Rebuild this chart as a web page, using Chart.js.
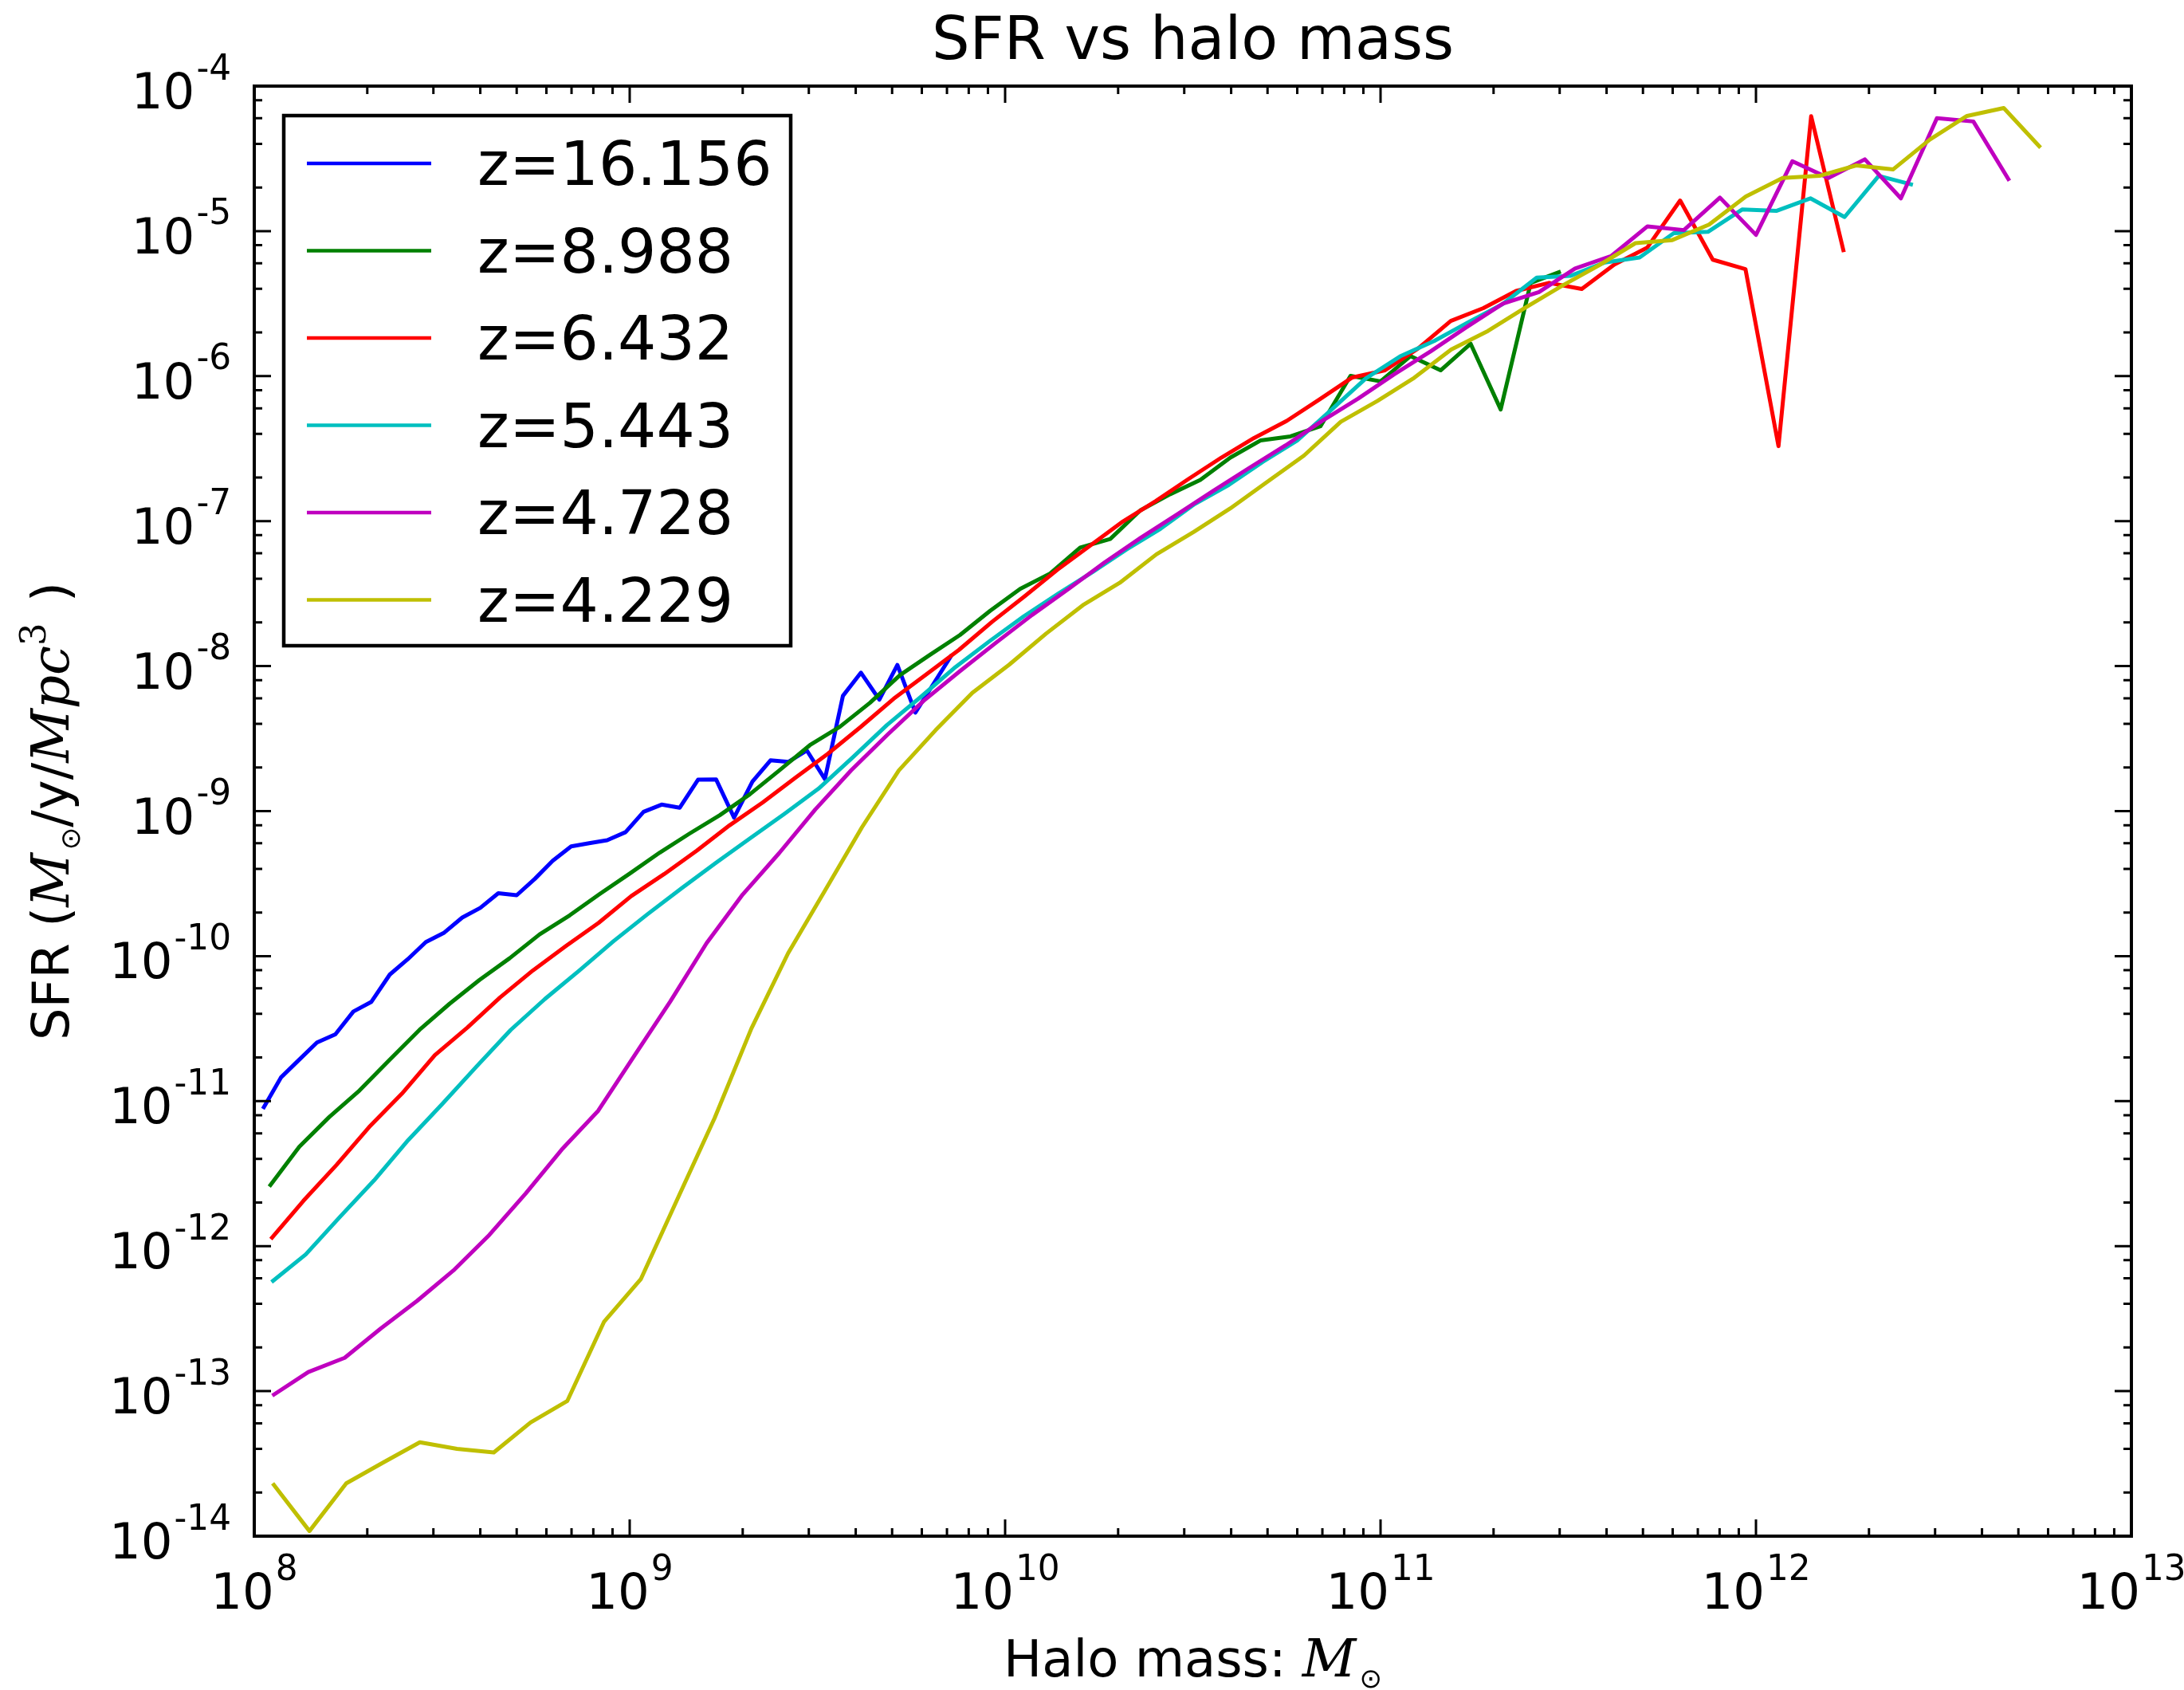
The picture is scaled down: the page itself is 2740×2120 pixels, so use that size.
<!DOCTYPE html>
<html>
<head>
<meta charset="utf-8">
<script src="https://cdn.jsdelivr.net/npm/chart.js@4/dist/chart.umd.min.js"></script>
<style>
html,body{margin:0;padding:0;background:#ffffff;}
canvas{display:block;}
</style>
</head>
<body>
<canvas id="c" width="2740" height="2120" style="width:2740px;height:2120px"></canvas>
<script>
// ---------------- data (log10 values) ----------------
const seriesLabels = ['z=16.156', 'z=8.988', 'z=6.432', 'z=5.443', 'z=4.728', 'z=4.229'];
const seriesColors = ['#0000ff', '#008000', '#ff0000', '#00bfbf', '#bf00bf', '#bfbf00'];

// log10(halo mass / Msun), bin centres
const massLog_z16 = [8.023,8.071,8.119,8.167,8.216,8.264,8.312,8.361,8.409,8.457,8.506,8.554,8.602,8.650,8.699,8.747,8.795,8.844,8.892,8.940,8.989,9.037,9.085,9.133,9.182,9.230,9.278,9.327,9.375,9.423,9.472,9.520,9.568,9.616,9.665,9.713,9.761,9.810,9.858];
const sfrLog_z16 = [-11.053,-10.837,-10.716,-10.596,-10.539,-10.382,-10.315,-10.127,-10.021,-9.903,-9.838,-9.734,-9.667,-9.566,-9.580,-9.468,-9.342,-9.243,-9.221,-9.201,-9.145,-9.005,-8.955,-8.977,-8.783,-8.781,-9.045,-8.796,-8.650,-8.660,-8.582,-8.779,-8.205,-8.045,-8.231,-7.992,-8.320,-8.119,-7.922];

const massLog_z9 = [8.04,8.12,8.20,8.28,8.36,8.44,8.52,8.60,8.68,8.76,8.84,8.92,9.00,9.08,9.16,9.24,9.32,9.40,9.48,9.56,9.64,9.72,9.80,9.88,9.96,10.04,10.12,10.20,10.28,10.36,10.44,10.52,10.60,10.68,10.76,10.84,10.92,11.00,11.08,11.16,11.24,11.32,11.40,11.48];
const sfrLog_z9 = [-11.589,-11.314,-11.109,-10.927,-10.716,-10.509,-10.329,-10.164,-10.015,-9.850,-9.719,-9.572,-9.431,-9.286,-9.154,-9.028,-8.884,-8.716,-8.545,-8.418,-8.253,-8.062,-7.922,-7.785,-7.619,-7.468,-7.361,-7.182,-7.123,-6.926,-6.814,-6.716,-6.562,-6.444,-6.416,-6.346,-5.998,-6.036,-5.862,-5.960,-5.777,-6.230,-5.357,-5.279];

const massLog_z6 = [8.044,8.131,8.219,8.306,8.393,8.481,8.568,8.655,8.742,8.830,8.917,9.004,9.092,9.179,9.266,9.354,9.441,9.528,9.615,9.703,9.790,9.877,9.965,10.052,10.139,10.227,10.314,10.401,10.488,10.576,10.663,10.750,10.838,10.925,11.012,11.100,11.187,11.274,11.361,11.449,11.536,11.623,11.710,11.798,11.885,11.972,12.060,12.147,12.234];
const sfrLog_z6 = [-11.951,-11.687,-11.440,-11.179,-10.949,-10.683,-10.492,-10.284,-10.099,-9.931,-9.771,-9.586,-9.434,-9.272,-9.098,-8.941,-8.770,-8.604,-8.420,-8.225,-8.057,-7.888,-7.695,-7.518,-7.336,-7.168,-7.002,-6.862,-6.710,-6.562,-6.427,-6.309,-6.160,-6.009,-5.960,-5.809,-5.620,-5.531,-5.413,-5.357,-5.399,-5.230,-5.115,-4.789,-5.197,-5.262,-6.483,-4.208,-5.145];

const massLog_z5 = [8.046,8.137,8.228,8.319,8.410,8.501,8.592,8.683,8.774,8.866,8.957,9.048,9.139,9.230,9.321,9.412,9.503,9.594,9.685,9.776,9.868,9.959,10.050,10.141,10.232,10.323,10.414,10.505,10.596,10.687,10.778,10.870,10.961,11.052,11.143,11.234,11.325,11.416,11.507,11.598,11.690,11.781,11.872,11.963,12.054,12.145,12.236,12.327,12.418];
const sfrLog_z5 = [-12.248,-12.057,-11.799,-11.547,-11.269,-11.019,-10.761,-10.509,-10.296,-10.099,-9.897,-9.710,-9.530,-9.356,-9.187,-9.019,-8.845,-8.630,-8.407,-8.211,-8.006,-7.827,-7.656,-7.501,-7.353,-7.196,-7.053,-6.882,-6.750,-6.590,-6.444,-6.230,-6.015,-5.864,-5.758,-5.628,-5.504,-5.321,-5.308,-5.216,-5.182,-5.014,-5.005,-4.851,-4.861,-4.774,-4.903,-4.619,-4.681];

const massLog_z4a = [8.048,8.144,8.241,8.337,8.434,8.530,8.626,8.723,8.819,8.916,9.012,9.108,9.205,9.301,9.398,9.494,9.590,9.687,9.783,9.880,9.976,10.072,10.169,10.265,10.362,10.458,10.554,10.651,10.747,10.844,10.940,11.036,11.133,11.229,11.326,11.422,11.518,11.615,11.711,11.808,11.904,12.000,12.097,12.193,12.290,12.386,12.482,12.579,12.675];
const sfrLog_z4a = [-13.031,-12.868,-12.770,-12.568,-12.377,-12.169,-11.923,-11.637,-11.334,-11.067,-10.688,-10.313,-9.910,-9.575,-9.290,-8.990,-8.718,-8.472,-8.239,-8.034,-7.838,-7.647,-7.468,-7.285,-7.114,-6.954,-6.792,-6.632,-6.478,-6.310,-6.156,-5.988,-5.830,-5.662,-5.500,-5.420,-5.258,-5.171,-4.967,-4.993,-4.769,-5.026,-4.518,-4.634,-4.505,-4.774,-4.221,-4.244,-4.653];

const massLog_z4b = [8.049,8.147,8.245,8.343,8.441,8.540,8.638,8.736,8.834,8.932,9.030,9.128,9.226,9.324,9.422,9.521,9.619,9.717,9.815,9.913,10.011,10.109,10.207,10.305,10.403,10.502,10.600,10.698,10.796,10.894,10.992,11.090,11.188,11.286,11.384,11.483,11.581,11.679,11.777,11.875,11.973,12.071,12.169,12.267,12.365,12.463,12.562,12.660,12.758];
const sfrLog_z4b = [-13.636,-13.965,-13.636,-13.493,-13.353,-13.398,-13.423,-13.216,-13.067,-12.520,-12.226,-11.670,-11.118,-10.500,-9.980,-9.544,-9.110,-8.719,-8.441,-8.183,-7.990,-7.776,-7.580,-7.426,-7.229,-7.075,-6.912,-6.730,-6.548,-6.315,-6.171,-6.011,-5.817,-5.689,-5.531,-5.378,-5.237,-5.083,-5.062,-4.955,-4.761,-4.634,-4.619,-4.547,-4.575,-4.369,-4.206,-4.151,-4.425];

const xTickExponents = [8, 9, 10, 11, 12, 13];
const yTickExponents = [-14, -13, -12, -11, -10, -9, -8, -7, -6, -5, -4];
const xMinorSubs = [2, 3, 4, 5, 6, 7, 8, 9];
const yMinorSubs = [2, 4, 6, 8];

const massLists = [massLog_z16, massLog_z9, massLog_z6, massLog_z5, massLog_z4a, massLog_z4b];
const sfrLists = [sfrLog_z16, sfrLog_z9, sfrLog_z6, sfrLog_z5, sfrLog_z4a, sfrLog_z4b];

// ---------------- drawing helpers ----------------
const SANS = '"DejaVu Sans"';
const SERIF_IT = 'italic 66px "DejaVu Serif"';
const TICK_PX = 62.5, SUP_PX = 43.75;

function drawPow(ctx, exp, anchorX, baseY, align) {
  const base = '10', sup = String(exp);
  ctx.font = TICK_PX + 'px ' + SANS;
  const w1 = ctx.measureText(base).width;
  ctx.font = SUP_PX + 'px ' + SANS;
  const w2 = ctx.measureText(sup).width;
  const total = w1 + w2 + 2;
  let x0 = align === 'center' ? anchorX - total / 2 : anchorX - total;
  ctx.textAlign = 'left';
  ctx.textBaseline = 'alphabetic';
  ctx.font = TICK_PX + 'px ' + SANS;
  ctx.fillText(base, x0, baseY);
  ctx.font = SUP_PX + 'px ' + SANS;
  ctx.fillText(sup, x0 + w1 + 2, baseY - 36.5);
}

// pieces: {t, font, dy}
function drawPieces(ctx, pieces, cx, baseY) {
  let total = 0;
  pieces.forEach(p => { ctx.font = p.font; p.w = ctx.measureText(p.t).width + (p.gap || 0); total += p.w; });
  let x = cx - total / 2;
  ctx.textAlign = 'left';
  pieces.forEach(p => {
    ctx.font = p.font;
    ctx.textBaseline = p.mid ? 'middle' : 'alphabetic';
    ctx.fillText(p.t, x + (p.pre || 0), baseY + (p.dy || 0));
    x += p.w;
  });
}

const decorPlugin = {
  id: 'decor',
  afterDatasetsDraw(chart) {
    const ctx = chart.ctx;
    const a = chart.chartArea;
    const xs = chart.scales.x, ys = chart.scales.y;
    ctx.save();
    ctx.fillStyle = '#000';
    ctx.strokeStyle = '#000';
    ctx.lineCap = 'butt';

    // ticks (inward, all four sides)
    ctx.lineWidth = 3;
    ctx.beginPath();
    for (let i = 0; i < xTickExponents.length; i++) {
      const e = xTickExponents[i];
      const subs = [1].concat(i < xTickExponents.length - 1 ? xMinorSubs : []);
      subs.forEach(m => {
        const px = xs.getPixelForValue(m * Math.pow(10, e));
        const len = m === 1 ? 21 : 10;
        ctx.moveTo(px, a.bottom); ctx.lineTo(px, a.bottom - len);
        ctx.moveTo(px, a.top); ctx.lineTo(px, a.top + len);
      });
    }
    for (let i = 0; i < yTickExponents.length; i++) {
      const e = yTickExponents[i];
      const subs = [1].concat(i < yTickExponents.length - 1 ? yMinorSubs : []);
      subs.forEach(m => {
        const py = ys.getPixelForValue(m * Math.pow(10, e));
        const len = m === 1 ? 21 : 10;
        ctx.moveTo(a.left, py); ctx.lineTo(a.left + len, py);
        ctx.moveTo(a.right, py); ctx.lineTo(a.right - len, py);
      });
    }
    ctx.stroke();

    // frame
    ctx.lineWidth = 4;
    ctx.strokeRect(a.left, a.top, a.right - a.left, a.bottom - a.top);

    // tick labels
    xTickExponents.forEach(e => {
      drawPow(ctx, e, xs.getPixelForValue(Math.pow(10, e)), a.bottom + 91, 'center');
    });
    yTickExponents.forEach(e => {
      drawPow(ctx, e, a.left - 29, ys.getPixelForValue(Math.pow(10, e)) + 28, 'right');
    });

    // x axis label
    const sans64 = '64px ' + SANS;
    drawPieces(ctx, [
      {t: 'Halo mass: ', font: sans64},
      {t: 'M', font: SERIF_IT, gap: 4},
      {t: '\u2299', font: '34px ' + SANS, mid: true, dy: 5}
    ], (a.left + a.right) / 2, 2103);

    // y axis label (rotated)
    ctx.save();
    ctx.translate(86, (a.top + a.bottom) / 2);
    ctx.rotate(-Math.PI / 2);
    drawPieces(ctx, [
      {t: 'SFR (', font: sans64},
      {t: 'M', font: SERIF_IT, gap: 4},
      {t: '\u2299', font: '34px ' + SANS, mid: true, dy: 5},
      {t: '/y/', font: sans64},
      {t: 'Mpc', font: SERIF_IT},
      {t: '3', font: '45px "DejaVu Serif"', dy: -29, gap: 6},
      {t: ' )', font: sans64}
    ], 0, 0);
    ctx.restore();

    // legend
    const lx = 356, ly = 145, lw = 636, lh = 665;
    ctx.fillStyle = '#ffffff';
    ctx.fillRect(lx, ly, lw, lh);
    ctx.lineWidth = 4.5;
    ctx.strokeStyle = '#000';
    ctx.strokeRect(lx, ly, lw, lh);
    ctx.font = '76px ' + SANS;
    ctx.textAlign = 'left';
    ctx.textBaseline = 'alphabetic';
    seriesLabels.forEach((lab, i) => {
      const yy = 205 + 109.5 * i;
      ctx.strokeStyle = seriesColors[i];
      ctx.lineWidth = 4.5;
      ctx.beginPath();
      ctx.moveTo(385, yy); ctx.lineTo(541, yy);
      ctx.stroke();
      ctx.fillStyle = '#000';
      ctx.fillText(lab, 599, yy + 27);
    });
    ctx.restore();
  }
};

const datasets = seriesLabels.map((lab, i) => ({
  label: lab,
  data: massLists[i].map((m, k) => ({x: Math.pow(10, m), y: Math.pow(10, sfrLists[i][k])})),
  borderColor: seriesColors[i],
  backgroundColor: seriesColors[i],
  borderWidth: 5,
  pointRadius: 0,
  showLine: true,
  fill: false,
  tension: 0,
  borderJoinStyle: 'round',
  borderCapStyle: 'butt',
  order: seriesLabels.length - i
}));

Chart.defaults.font.family = '"DejaVu Sans"';
new Chart(document.getElementById('c'), {
  type: 'scatter',
  data: {datasets},
  options: {
    responsive: false,
    maintainAspectRatio: false,
    devicePixelRatio: 1,
    animation: false,
    events: [],
    layout: {padding: {left: 319, right: 66, top: 0, bottom: 193}},
    scales: {
      x: {type: 'logarithmic', min: 1e8, max: 1e13, display: false},
      y: {type: 'logarithmic', min: 1e-14, max: 1e-4, display: false}
    },
    plugins: {
      legend: {display: false},
      tooltip: {enabled: false},
      title: {
        display: true,
        text: 'SFR vs halo mass',
        color: '#000',
        font: {family: '"DejaVu Sans"', size: 75, weight: 'normal', lineHeight: 1.2},
        padding: {top: 10, bottom: 8}
      }
    }
  },
  plugins: [decorPlugin]
});
</script>
</body>
</html>
